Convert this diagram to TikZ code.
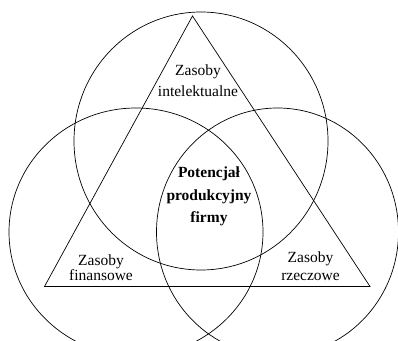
\documentclass[tikz,border=0pt]{standalone}
\usepackage{fontspec}
\setmainfont{Liberation Serif}
\usetikzlibrary{shapes.geometric}
\tikzset{
  ring/.style={line width=0.7pt, draw=black},
  lbl/.style={align=center, inner sep=0pt, font=\fontsize{15.5}{#1}\selectfont},
  lblb/.style={align=center, inner sep=0pt, font=\fontsize{15.5}{#1}\selectfont\bfseries}
}
\begin{document}
\begin{tikzpicture}[x=1pt,y=-1pt]
\useasboundingbox (0,0) rectangle (398,340);
\clip (0,0) rectangle (398,340);
\fill[white] (0,0) rectangle (398,340);
% circles
\draw[ring] (201,141) ellipse [x radius=127, y radius=129];
\draw[ring] (136,232) ellipse [x radius=127, y radius=124];
\draw[ring] (277.5,232) ellipse [x radius=121, y radius=124];
% triangle
\coordinate (A) at (192.5,16);
\coordinate (B) at (44.5,286.5);
\coordinate (C) at (370,286.5);
\draw[ring, line join=miter] (A) -- (B) -- (C) -- cycle;
% labels
\node[lbl=20.7] (intel) at (198,81) {Zasoby\\intelektualne};
\node[lblb=22.5] (pot) at (209,196.5) {Potencjał\\produkcyjny\\firmy};
\node[lbl=15.5] (fin) at (101,267.5) {Zasoby\\finansowe};
\node[lbl=18] (rzecz) at (310.5,266.3) {Zasoby\\rzeczowe};
\end{tikzpicture}
\end{document}
